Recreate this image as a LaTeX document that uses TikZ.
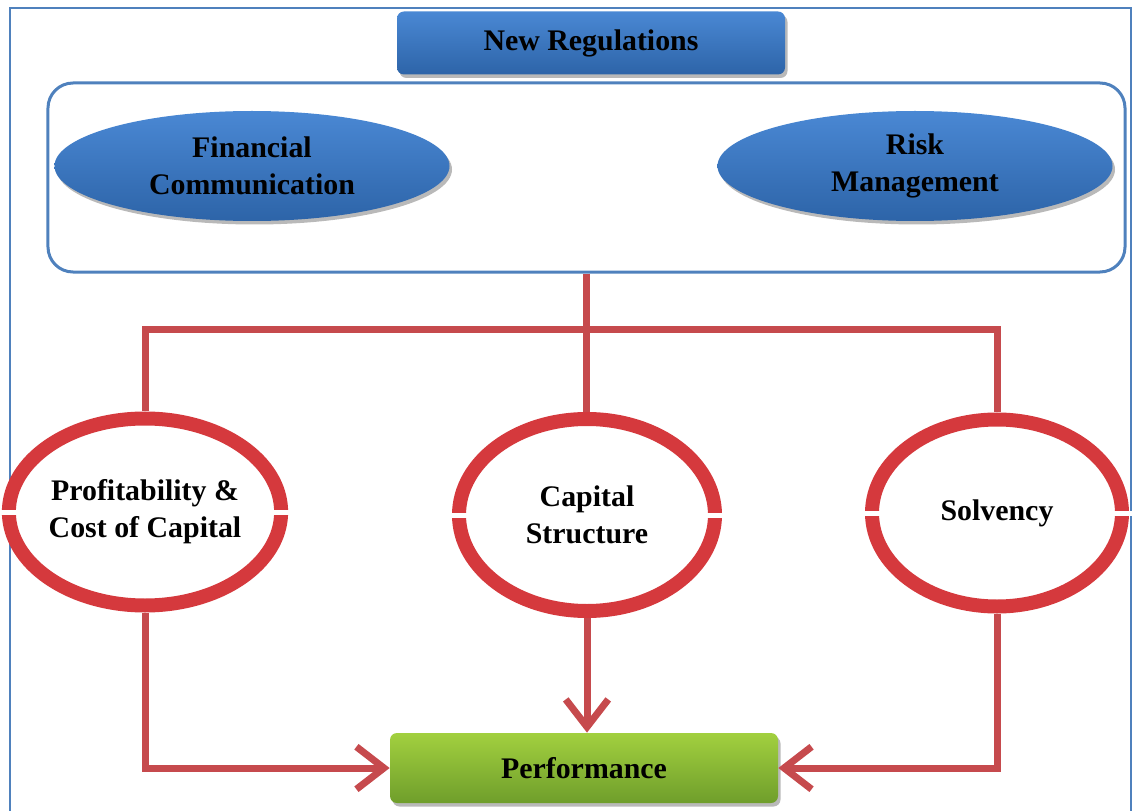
\documentclass[tikz,border=0pt]{standalone}
\usepackage{fontspec}
\setmainfont{Liberation Serif}
\definecolor{frameblue}{HTML}{4F81BD}
\definecolor{bluetop}{HTML}{4A88D4}
\definecolor{bluebot}{HTML}{2D64A8}
\definecolor{ringred}{HTML}{D5393D}
\definecolor{linkred}{HTML}{C64A4D}
\definecolor{greentop}{HTML}{A2D03F}
\definecolor{greenbot}{HTML}{6F9E2B}
\usetikzlibrary{shapes.geometric, arrows.meta, shadows}
\tikzset{
	labeltext/.style={
			font=\fontsize{17}{21}\selectfont\bfseries,
			text=black,
			align=center,
			inner sep=0pt
		},
	softshadow/.style={
			drop shadow={shadow xshift=0.5mm, shadow yshift=-0.7mm, fill=black!50, opacity=0.55}
		},
	bluebox/.style={
			labeltext,
			rectangle,
			rounded corners=1.4mm,
			top color=bluetop,
			bottom color=bluebot,
			softshadow
		},
	blueoval/.style={
			labeltext,
			ellipse,
			minimum width=79mm,
			minimum height=22mm,
			top color=bluetop,
			bottom color=bluebot,
			softshadow
		},
	groupbox/.style={
			rectangle,
			rounded corners=5mm,
			draw=frameblue,
			line width=0.6mm
		},
	ringnode/.style={
			labeltext,
			ellipse,
			draw=ringred,
			line width=2.8mm,
			fill=white,
			minimum width=50mm,
			minimum height=37.4mm
		},
	greenbox/.style={
			labeltext,
			rectangle,
			rounded corners=1.4mm,
			top color=greentop,
			bottom color=greenbot,
			softshadow
		},
	link/.style={
			draw=linkred,
			line width=1.4mm
		},
	linkarrow/.style={
			link,
			-{Straight Barb[length=5.5mm, width=8.5mm]}
		}
}

\begin{document}
\begin{tikzpicture}[x=0.2mm, y=-0.2mm]
\useasboundingbox (0,0) rectangle (1134,811);
\draw[frameblue, line width=0.5mm] (10,8) rectangle (1131,830);

\node[bluebox, minimum width=77.6mm, minimum height=12.6mm] (reg) at (591,43) {New Regulations};
\node[groupbox, minimum width=215.4mm, minimum height=37.8mm] (grp) at (586.5,177.5) {};
\node[blueoval] (fin) at (252,166) {Financial\\Communication};
\node[blueoval] (risk) at (915,166) {Risk\\Management};

\node[ringnode] (prof) at (145,512) {Profitability \& \\Cost of Capital};
\node[ringnode, minimum width=51.2mm, minimum height=38.4mm] (cap) at (587,515) {Capital\\Structure};
\node[ringnode] (solv) at (997,513) {Solvency};

\node[greenbox, minimum width=77.6mm, minimum height=14mm] (perf) at (584,768) {Performance};

% openings on both sides of the rings
\fill[white] ([xshift=-0.5mm, yshift=-0.5mm]prof.west) rectangle ++(3.6mm,1mm);
\fill[white] ([xshift=0.5mm, yshift=-0.5mm]prof.east) rectangle ++(-3.6mm,1mm);
\fill[white] ([xshift=-0.5mm, yshift=-0.5mm]cap.west) rectangle ++(3.6mm,1mm);
\fill[white] ([xshift=0.5mm, yshift=-0.5mm]cap.east) rectangle ++(-3.6mm,1mm);
\fill[white] ([xshift=-0.5mm, yshift=-0.5mm]solv.west) rectangle ++(3.6mm,1mm);
\fill[white] ([xshift=0.5mm, yshift=-0.5mm]solv.east) rectangle ++(-3.6mm,1mm);

\coordinate (bar) at (587,330);
\draw[link] (grp.south) -- (grp.south |- cap.north);
\draw[link] (prof.north) -- (prof.north |- bar) -- (solv.north |- bar) -- (solv.north);

\draw[linkarrow] (prof.south) |- (perf.west);
\draw[linkarrow] (cap.south) -- (cap.south |- perf.north);
\draw[linkarrow] (solv.south) |- (perf.east);
\end{tikzpicture}
\end{document}
